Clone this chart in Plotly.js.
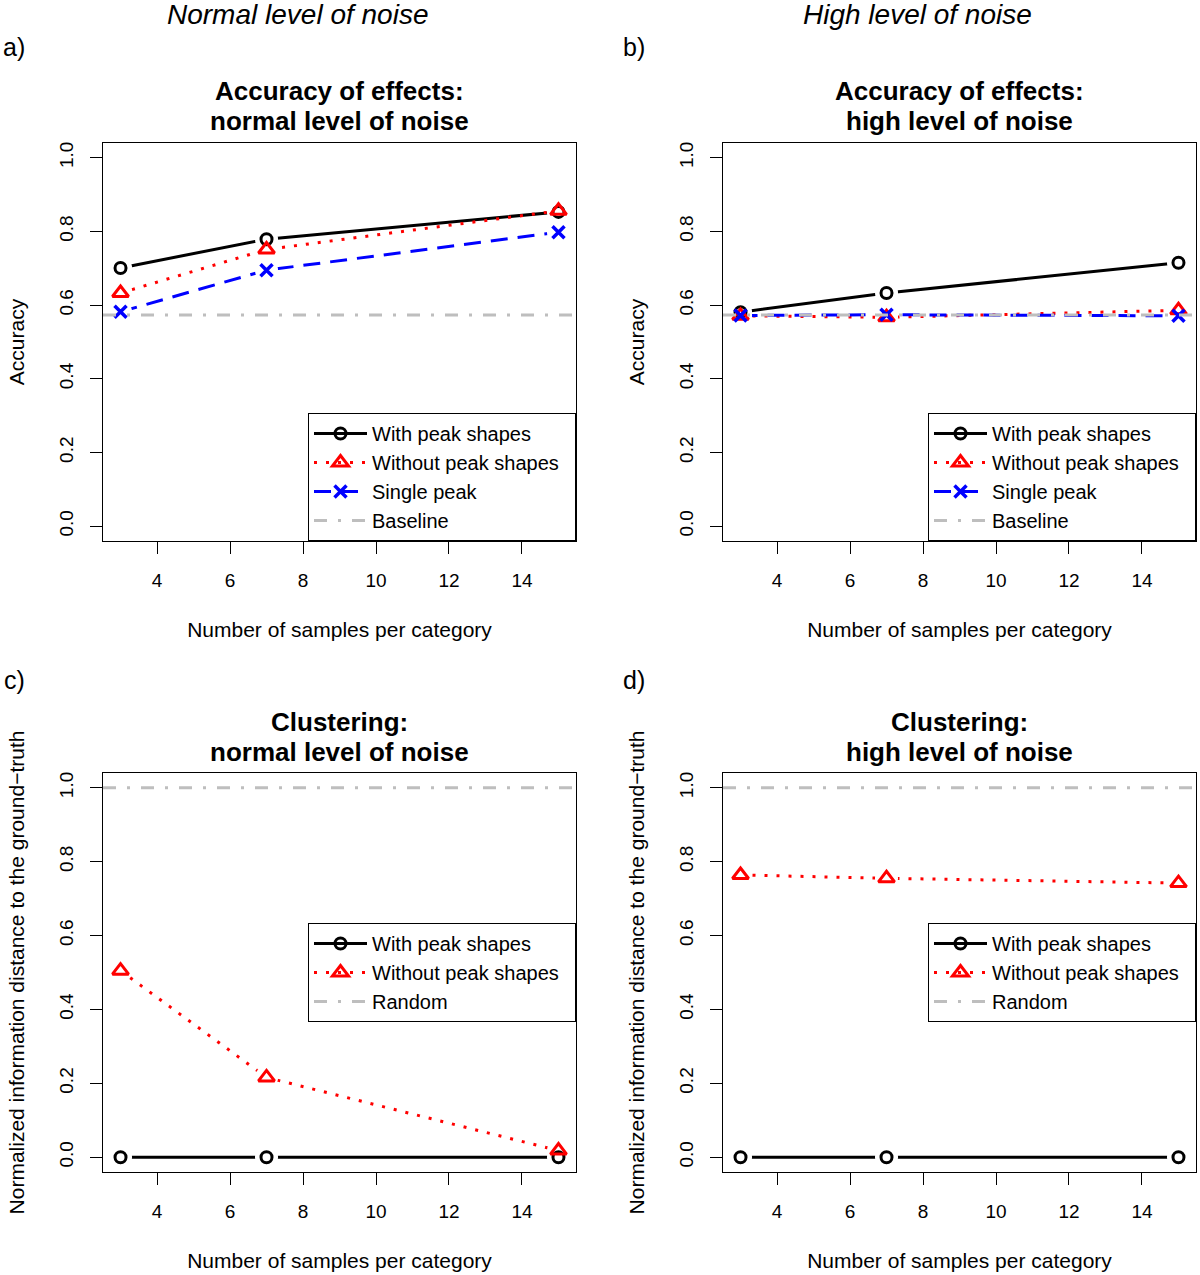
<!DOCTYPE html>
<html>
<head>
<meta charset="utf-8">
<script src="https://cdn.plot.ly/plotly-3.0.1.min.js"></script>
<style>html,body{margin:0;padding:0;background:#fff;}#chart{width:1200px;height:1275px;}</style>
</head>
<body>
<div id="chart"></div>
<script>
// ---------- data ----------
const samples = [3, 7, 15];
const xTicks = [4, 6, 8, 10, 12, 14];
const yTicks = [0, 0.2, 0.4, 0.6, 0.8, 1.0];
const yTickText = ['0.0', '0.2', '0.4', '0.6', '0.8', '1.0'];

// Accuracy of effects, normal noise
const accNormalWith = [0.701, 0.779, 0.853];
const accNormalWithout = [0.633, 0.751, 0.856];
const accNormalSingle = [0.582, 0.695, 0.798];
const accNormalBaseline = 0.573;

// Accuracy of effects, high noise
const accHighWith = [0.581, 0.633, 0.715];
const accHighWithout = [0.571, 0.567, 0.586];
const accHighSingle = [0.572, 0.574, 0.571];
const accHighBaseline = 0.573;

// Clustering, normal noise
const clNormalWith = [0.0, 0.0, 0.0];
const clNormalWithout = [0.505, 0.216, 0.018];
const clNormalRandom = 1.0;

// Clustering, high noise
const clHighWith = [0.0, 0.0, 0.0];
const clHighWithout = [0.764, 0.755, 0.742];
const clHighRandom = 1.0;

// ---------- helpers ----------
const W = 1200, H = 1275;
const px = v => v / W;
const py = v => 1 - v / H;
const FONT = 'Liberation Sans, Arial, Helvetica, sans-serif';
const PAD = '\u00a0\u00a0';

const STY = {
  with:    {color: '#000000', dash: 'solid', width: 3, symbol: 'circle-open', size: 11, mlw: 3},
  without: {color: '#FF0000', dash: '3px,9px', width: 3, symbol: 'triangle-up-open', size: 14, mlw: 3},
  single:  {color: '#0000FF', dash: '17px,10px', width: 3, symbol: 'x-thin-open', size: 12, mlw: 3.5},
  ref:     {color: '#BEBEBE', dash: '13px,11px,3px,11px', width: 3}
};

const traces = [];
const shapes = [];

function panel(ax, legendId, series, refVal, refName) {
  const xa = 'x' + (ax === 1 ? '' : ax), ya = 'y' + (ax === 1 ? '' : ax);
  series.forEach(s => {
    const st = STY[s.key];
    traces.push({
      x: samples, y: s.y, xaxis: xa, yaxis: ya, name: s.name + PAD, legend: legendId,
      mode: 'lines+markers', type: 'scatter', cliponaxis: false,
      line: {color: st.color, width: st.width, dash: st.dash},
      marker: {symbol: st.symbol, size: st.size, color: st.color, line: {color: st.color, width: st.mlw}}
    });
  });
  // halos to create gaps around points (R type="b")
  series.forEach(s => {
    traces.push({
      x: samples, y: s.y, xaxis: xa, yaxis: ya, showlegend: false, hoverinfo: 'skip',
      mode: 'markers', type: 'scatter', cliponaxis: false,
      marker: {symbol: 'circle', size: 23, color: '#FFFFFF', line: {width: 0}}
    });
  });
  series.forEach(s => {
    const st = STY[s.key];
    traces.push({
      x: samples, y: s.y, xaxis: xa, yaxis: ya, showlegend: false, hoverinfo: 'skip',
      mode: 'markers', type: 'scatter', cliponaxis: false,
      marker: {symbol: st.symbol, size: st.size, color: st.color, line: {color: st.color, width: st.mlw}}
    });
  });
  traces.push({
    x: [null], y: [null], xaxis: xa, yaxis: ya, name: refName + PAD, legend: legendId,
    mode: 'lines', type: 'scatter',
    line: {color: STY.ref.color, width: STY.ref.width, dash: STY.ref.dash}
  });
  shapes.push({
    type: 'line', xref: xa + ' domain', yref: ya, x0: 0, x1: 1, y0: refVal, y1: refVal,
    layer: 'above', line: {color: STY.ref.color, width: STY.ref.width, dash: STY.ref.dash}
  });
}

panel(1, 'legend', [
  {key: 'with', name: 'With peak shapes', y: accNormalWith},
  {key: 'without', name: 'Without peak shapes', y: accNormalWithout},
  {key: 'single', name: 'Single peak', y: accNormalSingle}
], accNormalBaseline, 'Baseline');

panel(2, 'legend2', [
  {key: 'with', name: 'With peak shapes', y: accHighWith},
  {key: 'without', name: 'Without peak shapes', y: accHighWithout},
  {key: 'single', name: 'Single peak', y: accHighSingle}
], accHighBaseline, 'Baseline');

panel(3, 'legend3', [
  {key: 'with', name: 'With peak shapes', y: clNormalWith},
  {key: 'without', name: 'Without peak shapes', y: clNormalWithout}
], clNormalRandom, 'Random');

panel(4, 'legend4', [
  {key: 'with', name: 'With peak shapes', y: clHighWith},
  {key: 'without', name: 'Without peak shapes', y: clHighWithout}
], clHighRandom, 'Random');

// ---------- axes ----------
const boxL = [103, 723], boxR = [576, 1196];
const boxTop = [143, 773], boxBot = [541, 1172];

function xAxis(col, row, anchor) {
  return {
    domain: [px(boxL[col]), px(boxR[col])], anchor: anchor,
    range: [2.52, 15.48], tickvals: xTicks, ticktext: xTicks.map(String),
    ticks: 'outside', ticklen: 12, tickwidth: 1, tickcolor: '#000', ticklabelstandoff: 10,
    showline: true, mirror: true, linecolor: '#000', linewidth: 1,
    showgrid: false, zeroline: false,
    tickfont: {family: FONT, size: 19, color: '#000'},
    title: {text: 'Number of samples per category', font: {family: FONT, size: 21, color: '#000'}, standoff: 32}
  };
}
function yAxis(col, row, anchor, title) {
  return {
    domain: [py(boxBot[row]), py(boxTop[row])], anchor: anchor,
    range: [-0.04, 1.04], tickvals: yTicks, ticktext: yTickText, tickangle: -90,
    ticks: 'outside', ticklen: 12, tickwidth: 1, tickcolor: '#000', ticklabelstandoff: 9,
    showline: true, mirror: true, linecolor: '#000', linewidth: 1,
    showgrid: false, zeroline: false,
    tickfont: {family: FONT, size: 19, color: '#000'},
    title: {text: title, font: {family: FONT, size: 21, color: '#000'}, standoff: 26}
  };
}

function legendAt(col, yPos, anchor) {
  return {
    x: px(boxR[col]), xanchor: 'right', y: py(yPos), yanchor: anchor,
    bgcolor: '#FFFFFF', bordercolor: '#000', borderwidth: 1,
    font: {family: FONT, size: 20, color: '#000'}, tracegroupgap: 0, itemwidth: 53
  };
}

const annFont = (size) => ({family: FONT, size: size, color: '#000'});
const annotations = [
  {text: '<i>Normal level of noise</i>', x: px(297), y: py(14), font: annFont(28)},
  {text: '<i>High level of noise</i>', x: px(917), y: py(14), font: annFont(28)},
  {text: 'a)', x: px(14), y: py(47), font: annFont(25)},
  {text: 'b)', x: px(634), y: py(47), font: annFont(25)},
  {text: 'c)', x: px(14), y: py(680), font: annFont(25)},
  {text: 'd)', x: px(634), y: py(680), font: annFont(25)},
  {text: '<b>Accuracy of effects:</b>', x: px(339.5), y: py(91), font: annFont(26)},
  {text: '<b>normal level of noise</b>', x: px(339.5), y: py(121), font: annFont(26)},
  {text: '<b>Accuracy of effects:</b>', x: px(959.5), y: py(91), font: annFont(26)},
  {text: '<b>high level of noise</b>', x: px(959.5), y: py(121), font: annFont(26)},
  {text: '<b>Clustering:</b>', x: px(339.5), y: py(722), font: annFont(26)},
  {text: '<b>normal level of noise</b>', x: px(339.5), y: py(752), font: annFont(26)},
  {text: '<b>Clustering:</b>', x: px(959.5), y: py(722), font: annFont(26)},
  {text: '<b>high level of noise</b>', x: px(959.5), y: py(752), font: annFont(26)}
].map(a => Object.assign({xref: 'paper', yref: 'paper', showarrow: false, xanchor: 'center', yanchor: 'middle'}, a));

const layout = {
  width: W, height: H,
  margin: {l: 0, r: 0, t: 0, b: 0},
  paper_bgcolor: '#fff', plot_bgcolor: '#fff',
  font: {family: FONT, color: '#000'},
  showlegend: true,
  xaxis: xAxis(0, 0, 'y'),
  yaxis: yAxis(0, 0, 'x', 'Accuracy'),
  xaxis2: xAxis(1, 0, 'y2'),
  yaxis2: yAxis(1, 0, 'x2', 'Accuracy'),
  xaxis3: xAxis(0, 1, 'y3'),
  yaxis3: yAxis(0, 1, 'x3', 'Normalized information distance to the ground\u2212truth'),
  xaxis4: xAxis(1, 1, 'y4'),
  yaxis4: yAxis(1, 1, 'x4', 'Normalized information distance to the ground\u2212truth'),
  legend: legendAt(0, 541, 'bottom'),
  legend2: legendAt(1, 541, 'bottom'),
  legend3: legendAt(0, 972.5, 'middle'),
  legend4: legendAt(1, 972.5, 'middle'),
  shapes: shapes,
  annotations: annotations
};

Plotly.newPlot('chart', traces, layout, {staticPlot: true, displayModeBar: false});
</script>
</body>
</html>
